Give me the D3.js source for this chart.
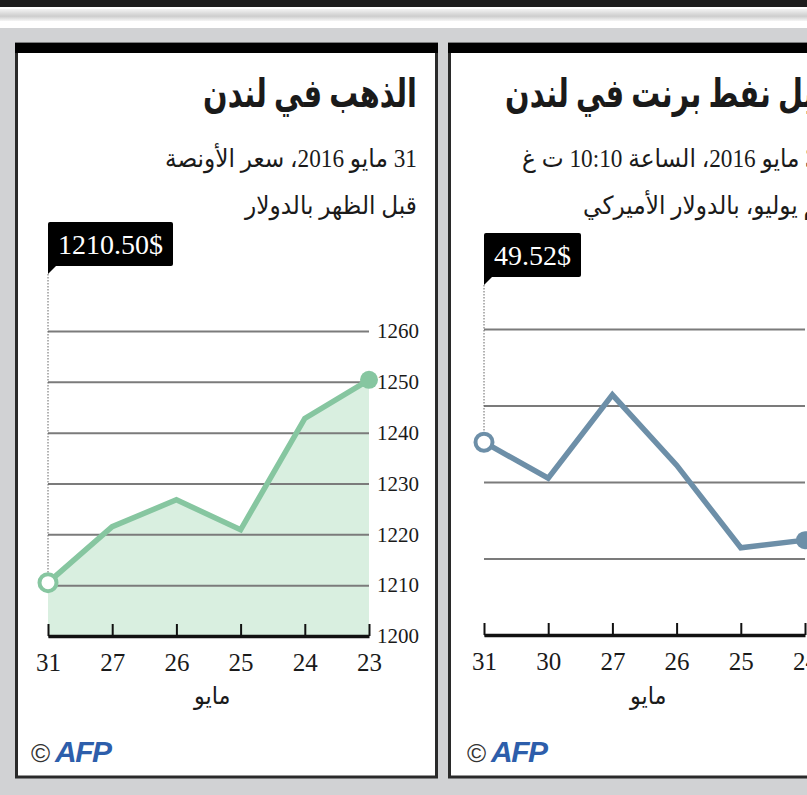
<!DOCTYPE html>
<html>
<head>
<meta charset="utf-8">
<script src="https://cdn.jsdelivr.net/npm/d3@7"></script>
<style>
  body { margin: 0; background: #fff; }
  svg { display: block; }
</style>
</head>
<body>
<div id="chart"></div>
<script>
// gold, London a.m. fix, usd per ounce (newest first, as drawn left->right)
const goldDays = ["31", "27", "26", "25", "24", "23"];
const goldPrices = [1210.5, 1221.5, 1226.8, 1220.9, 1242.8, 1250.4];
const goldTicks = [1200, 1210, 1220, 1230, 1240, 1250, 1260];

// brent, July delivery, usd per barrel
const oilDays = ["31", "30", "27", "26", "25", "24"];
const oilPrices = [49.52, 49.05, 50.14, 49.22, 48.14, 48.24];
const oilTicks = [47, 48, 49, 50, 51];

const goldText = ["الذهب في لندن", "31 مايو 2016، سعر الأونصة", "قبل الظهر بالدولار"];
const oilText = ["سعر برميل نفط برنت في لندن", "31 مايو 2016، الساعة 10:10 ت غ", "تسليم يوليو، بالدولار الأميركي"];
const monthLabel = "مايو";

const w = 807;
const h = 795;
const fontAr = "'Liberation Serif', 'DejaVu Sans', serif";
const fontNum = "'Liberation Serif', serif";

const svg = d3.select("#chart").
append("svg").
attr("width", w).
attr("height", h);

//page background : black band, shadow, grey area
const defs = svg.append("defs");
const shade = defs.append("linearGradient").attr("id", "shade").attr("x1", 0).attr("y1", 0).attr("x2", 0).attr("y2", 1);
shade.append("stop").attr("offset", 0).attr("stop-color", "#f3f3f3");
shade.append("stop").attr("offset", 0.6).attr("stop-color", "#cdcdcd");
shade.append("stop").attr("offset", 1).attr("stop-color", "#f6f6f6");

svg.append("rect").attr("width", w).attr("height", h).attr("fill", "#fff");
svg.append("rect").attr("x", 0).attr("y", 0).attr("width", w).attr("height", 7).attr("fill", "#1d1d1d");
svg.append("rect").attr("x", 0).attr("y", 9).attr("width", w).attr("height", 12).attr("fill", "url(#shade)");
svg.append("rect").attr("x", 0).attr("y", 28).attr("width", w).attr("height", h - 28).attr("fill", "#d1d2d4");

//arabic text, placed by its right or left edge, sx squeezes it a bit
function arText(g, str, o) {
  const sx = o.sx || 1;
  const holder = g.append("g");
  const t = holder.append("text").
  attr("direction", "rtl").
  attr("text-anchor", "middle").
  attr("x", 0).
  attr("y", 0).
  attr("fill", "#1a1a1a").
  style("font-family", fontAr).
  style("font-size", o.size + "px").
  style("font-weight", o.bold ? "bold" : "normal").
  text(str);
  const len = t.node().getComputedTextLength() * sx;
  const cx = o.right != null ? o.right - len / 2 : o.left + len / 2;
  holder.attr("transform", "translate(" + cx + "," + o.y + ") scale(" + sx + ",1)");
  return t;
}

function drawPanel(p) {
  const g = svg.append("g");

  //frame
  g.append("rect").
  attr("x", p.frameX).attr("y", 44).
  attr("width", 420).attr("height", 733).
  attr("fill", "#fff").
  attr("stroke", "#2a2a2a").
  attr("stroke-width", 3);
  g.append("rect").
  attr("x", p.frameX - 1.5).attr("y", 43).
  attr("width", 423).attr("height", 10).
  attr("fill", "#000");

  //titles
  arText(g, p.text[0], { y: 107, size: 40, bold: true, sx: 0.72, right: p.textRight, left: p.textLeft[0] });
  arText(g, p.text[1], { y: 167, size: 25, sx: 0.93, right: p.textRight, left: p.textLeft[1] });
  arText(g, p.text[2], { y: 214, size: 25, sx: 0.93, right: p.textRight, left: p.textLeft[2] });

  const x0 = 48 + p.dx;
  const x1 = 369 + p.dx;

  const xScale = d3.scalePoint().domain(p.days).range([x0, x1]);
  const yScale = d3.scaleLinear().domain(p.yDomain).range(p.yRange);
  const yBase = p.yRange[0];

  //area under the line
  if (p.fill) {
    const area = d3.area().
    x((d, i) => xScale(p.days[i])).
    y0(yBase).
    y1(d => yScale(d));
    g.append("path").
    datum(p.values).
    attr("d", area).
    attr("fill", p.fill);
  }

  //grid lines + value labels on the right
  const yAxis = d3.axisRight(yScale).
  tickValues(p.ticks).
  tickSize(-(x1 - x0)).
  tickPadding(8).
  tickFormat(d3.format("d"));
  const gy = g.append("g").
  attr("transform", "translate(" + x1 + ",0)").
  call(yAxis);
  gy.select(".domain").remove();
  gy.selectAll("line").attr("stroke", "#7b7b7b").attr("stroke-width", 2);
  gy.selectAll("text").
  attr("fill", "#1a1a1a").
  style("font-family", fontNum).
  style("font-size", "21px");

  //x axis, ticks pointing up
  const xAxis = d3.axisBottom(xScale).
  tickSizeInner(-12).
  tickSizeOuter(0).
  tickPadding(17);
  const gx = g.append("g").
  attr("transform", "translate(0," + yBase + ")").
  call(xAxis);
  gx.select(".domain").attr("stroke", "#111").attr("stroke-width", 3.5);
  gx.selectAll("line").attr("stroke", "#111").attr("stroke-width", 2);
  gx.selectAll("text").
  attr("fill", "#1a1a1a").
  style("font-family", fontNum).
  style("font-size", "25px");

  arText(g, monthLabel, { y: 704, size: 24, sx: 0.93, left: 194 + p.dx });

  //price label with tail
  const lt = p.labelTop;
  const lab = g.append("g");
  const labRect = lab.append("rect").
  attr("x", x0).attr("y", lt).
  attr("height", 44).
  attr("rx", 2).
  attr("fill", "#000");
  lab.append("path").
  attr("d", "M" + x0 + "," + (lt + 40) + "V" + (lt + 52) + "L" + (x0 + 12) + "," + (lt + 40) + "Z").
  attr("fill", "#000");
  const labText = lab.append("text").
  attr("x", x0 + 10).
  attr("y", lt + 32).
  attr("fill", "#fff").
  style("font-family", fontNum).
  style("font-size", "28px").
  text(p.label);
  labRect.attr("width", labText.node().getComputedTextLength() + 20);

  //dotted drop line
  g.append("line").
  attr("x1", x0).attr("x2", x0).
  attr("y1", lt + 52).
  attr("y2", yScale(p.values[0]) - 9).
  attr("stroke", "#666").
  attr("stroke-width", 1).
  attr("stroke-dasharray", "1.5,1.5");

  //line
  const line = d3.line().
  x((d, i) => xScale(p.days[i])).
  y(d => yScale(d));
  g.append("path").
  datum(p.values).
  attr("d", line).
  attr("fill", "none").
  attr("stroke", p.color).
  attr("stroke-width", 5.5).
  attr("stroke-linejoin", "miter");

  //end points
  const last = p.values.length - 1;
  g.append("circle").
  attr("cx", xScale(p.days[0])).
  attr("cy", yScale(p.values[0])).
  attr("r", 8.5).
  attr("fill", "#fff").
  attr("stroke", p.color).
  attr("stroke-width", 4);
  g.append("circle").
  attr("cx", xScale(p.days[last])).
  attr("cy", yScale(p.values[last])).
  attr("r", 9).
  attr("fill", p.color);

  //credit
  g.append("text").
  attr("x", 31 + p.dx).attr("y", 762).
  attr("fill", "#333").
  style("font-family", "'Liberation Sans', sans-serif").
  style("font-size", "26px").
  text("©");
  g.append("text").
  attr("x", 55 + p.dx).attr("y", 762).
  attr("fill", "#2d5eab").
  style("font-family", "'Liberation Sans', sans-serif").
  style("font-size", "30px").
  style("font-weight", "bold").
  style("font-style", "italic").
  style("letter-spacing", "-1.5px").
  text("AFP");
}

drawPanel({
  dx: 0,
  frameX: 16.5,
  days: goldDays,
  values: goldPrices,
  ticks: goldTicks,
  yDomain: [1200, 1260],
  yRange: [636, 331],
  color: "#86c6a0",
  fill: "#d9efe0",
  label: "1210.50$",
  labelTop: 222,
  text: goldText,
  textRight: 417,
  textLeft: [null, null, null]
});

drawPanel({
  dx: 436,
  frameX: 449.5,
  days: oilDays,
  values: oilPrices,
  ticks: oilTicks,
  yDomain: [47, 51],
  yRange: [635, 329],
  color: "#6d8fa8",
  fill: null,
  label: "49.52$",
  labelTop: 233,
  text: oilText,
  textRight: null,
  textLeft: [505, 522, 583]
});
</script>
</body>
</html>
